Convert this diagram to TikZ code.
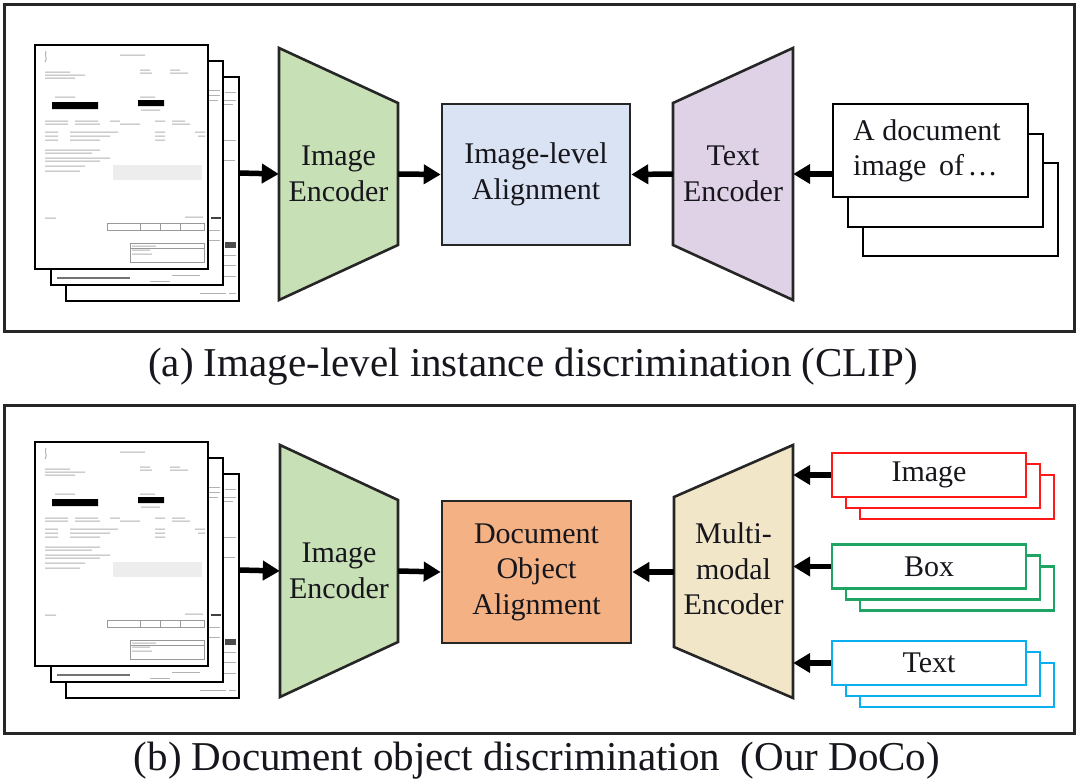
\documentclass[tikz,border=0pt]{standalone}
\usepackage{fontspec}
\setmainfont{Liberation Serif}
\usetikzlibrary{arrows.meta,calc}
\definecolor{encgreen}{RGB}{199,224,181}
\definecolor{alblue}{RGB}{218,227,243}
\definecolor{encpurple}{RGB}{224,210,230}
\definecolor{alorange}{RGB}{244,177,131}
\definecolor{enctan}{RGB}{242,230,200}
\definecolor{inred}{RGB}{255,25,25}
\definecolor{ingreen}{RGB}{30,165,100}
\definecolor{inblue}{RGB}{10,175,240}
\definecolor{txt}{RGB}{22,22,28}
\newcommand\docstackdraw[1]{%
\begin{scope}[yshift=#1]
 % third page
 \draw[docpage] (66,77) rectangle (239,301);
 \draw[docline] (225,92)--(236,92) (224,100)--(236,100) (224,104)--(233,104)
   (224,140)--(236,140) (224,160)--(235,160) (224,255)--(236,255)
   (224,265)--(236,265) (224,276)--(236,276) (200,293)--(226,293) (229,293)--(236,293);
 \fill[black!70] (225,242) rectangle (236,248);
 % second page
 \draw[docpage] (51,61) rectangle (223,285);
 \draw[docline] (209,90)--(220,90) (209,95)--(220,95) (209,100)--(218,100)
   (209,230)--(220,230) (209,240)--(220,240)
   (172,275)--(200,275) (150,281)--(170,281);
 \draw[black!55,line width=1.3pt] (57,278)--(130,278);
 \draw[black!75,line width=1.4pt] (211,218)--(221,218);
 % front page
 \draw[docpage] (35,45) rectangle (208,269);
 \draw[docline] (46,51)..controls (44,56) and (48,58)..(45,62)
   (120,55)--(145,55)
   (45,72)--(70,72) (45,75)--(85,75) (45,78)--(75,78)
   (140,70)--(150,70) (170,70)--(180,70) (140,73)--(152,73) (170,73)--(188,73)
   (55,97)--(75,97) (140,97)--(155,97) (141,110)--(160,110)
   (45,121)--(68,121) (75,121)--(98,121) (110,121)--(120,121) (155,121)--(165,121) (172,121)--(185,121)
   (45,124)--(68,124) (75,124)--(100,124) (120,124)--(140,124) (172,124)--(190,124)
   (45,132)--(58,132) (70,132)--(118,132) (155,132)--(165,132) (195,132)--(205,132)
   (45,136)--(58,136) (70,136)--(110,136) (155,136)--(165,136) (198,136)--(205,136)
   (45,140)--(58,140) (70,140)--(100,140) (155,140)--(165,140)
   (45,150)--(100,150) (45,153)--(92,153) (45,158)--(110,158) (45,161)--(100,161)
   (45,166)--(85,166) (45,171)--(80,171)
   (45,218)--(56,218) (185,217)--(203,217)
   (132,246)--(156,246) (132,250)--(150,250) (132,254)--(152,254);
 \fill[black!7] (113,165) rectangle (202,180);
 \draw[black!40,line width=0.8pt] (107,223) rectangle (204,230) (140,223)--(140,230) (160,223)--(160,230) (180,223)--(180,230)
   (130,243) rectangle (204,262) (130,248)--(204,248);
 \fill[black] (52,102) rectangle (98,109) (138,100) rectangle (164,106);
\end{scope}}
\begin{document}
\begin{tikzpicture}[x=1pt,y=-1pt,
  frame/.style={draw=black!85, line width=3pt},
  docpage/.style={draw=black, fill=white, line width=2.8pt},
  docline/.style={draw=black!30, line width=1pt},
  encshape/.style={draw=black!85, line width=2.6pt},
  lbl/.style={font=\fontsize{30}{35.5}\selectfont, align=center, text=txt, inner sep=0pt},
  albox/.style={lbl, draw=black!85, line width=2.6pt},
  arr/.style={line width=5.5pt, draw=black, -{Triangle[length=17pt,width=19pt]}},
  inbox/.style={draw, fill=white, line width=2.8pt},
  captext/.style={font=\fontsize{41}{48}\selectfont, text=txt, anchor=base, inner sep=0pt}]
\useasboundingbox (0,0) rectangle (1080,782);
% frames
\draw[frame] (4,4) rectangle (1074,331);
\draw[frame] (4,405) rectangle (1074,733);
% ---------- panel (a) ----------
\docstackdraw{0pt}
\node[minimum width=204pt, minimum height=256pt, inner sep=0pt] (doc1) at (137,173) {};
\draw[encshape, fill=encgreen] (279,48) -- (398,103) -- (398,245) -- (279,300) -- cycle;
\node[lbl, minimum width=119pt, minimum height=252pt] (ienc1) at (338.5,174) {Image\\Encoder};
\node[albox, fill=alblue, minimum width=188pt, minimum height=141pt] (al1) at (536,174.5) {Image-level\\Alignment};
\draw[encshape, fill=encpurple] (673,103) -- (793,48) -- (793,300) -- (673,245) -- cycle;
\node[lbl, minimum width=120pt, minimum height=252pt] (tenc1) at (733,174) {Text\\Encoder};
\draw[inbox, draw=black] (863,163) rectangle ++(195,93);
\draw[inbox, draw=black] (848,134) rectangle ++(195,93);
\node[inbox, draw=black, minimum width=195pt, minimum height=93pt, inner sep=0pt] (tb) at (930.5,150.5) {};
\node[lbl, align=left, anchor=west] (tbt) at (853,151) {A document\\image\hspace{0.42em}of\hspace{0.12em}\ldots};
\draw[arr] (doc1.east) -- (ienc1.west);
\draw[arr] (ienc1.east) -- (al1.west);
\draw[arr] (tenc1.west) -- (al1.east);
\draw[arr] (tb.west |- tenc1.east) -- (tenc1.east);
\node[captext] (capa) at (533,376) {(a) Image-level instance discrimination (CLIP)};
% ---------- panel (b) ----------
\docstackdraw{-397pt}
\node[minimum width=204pt, minimum height=256pt, inner sep=0pt] (doc2) at (137,570) {};
\draw[encshape, fill=encgreen] (280,445) -- (398,500) -- (398,642) -- (280,697) -- cycle;
\node[lbl, minimum width=118pt, minimum height=252pt] (ienc2) at (339,571) {Image\\Encoder};
\node[albox, fill=alorange, minimum width=189pt, minimum height=142pt] (al2) at (536.5,572) {Document\\Object\\Alignment};
\draw[encshape, fill=enctan] (674,497) -- (793,445) -- (793,698) -- (674,647) -- cycle;
\node[lbl, minimum width=119pt, minimum height=253pt] (mm) at (733.5,569) {Multi-\\modal\\Encoder};
% input stacks
\foreach \c/\y/\nm/\t in {inred/475/ibox/Image, ingreen/566.5/bbox/Box, inblue/663/xbox/Text}{
  \draw[inbox, draw=\c] (860,\y) rectangle ++(194,44);
  \draw[inbox, draw=\c] (846,\y-11) rectangle ++(194,44);
  \node[inbox, draw=\c, minimum width=194pt, minimum height=44pt, inner sep=0pt, lbl] (\nm) at (929,\y) {\t};
}
\draw[arr] (ibox.west) -- (ibox.west -| mm.east);
\draw[arr] (bbox.west) -- (bbox.west -| mm.east);
\draw[arr] (xbox.west) -- (xbox.west -| mm.east);
\draw[arr] (doc2.east) -- (ienc2.west);
\draw[arr] (ienc2.east) -- (al2.west);
\draw[arr] (mm.west |- al2.east) -- (al2.east);
\node[captext] (capb) at (537,770) {(b) Document object discrimination\ \ (Our DoCo)};
\end{tikzpicture}
\end{document}
